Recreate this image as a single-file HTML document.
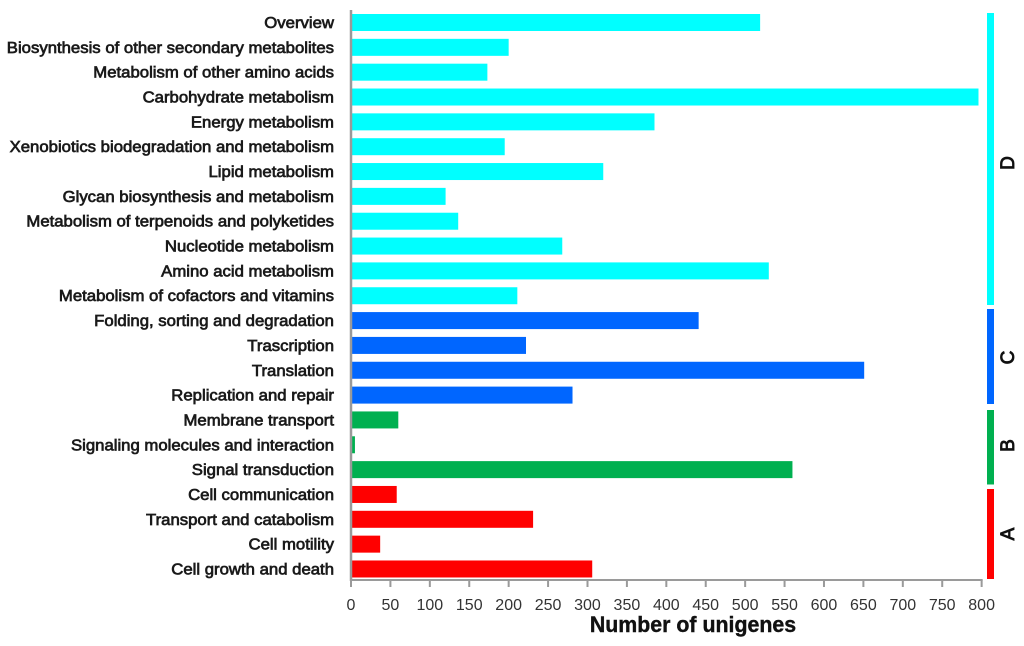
<!DOCTYPE html>
<html>
<head>
<meta charset="utf-8">
<style>
html,body{margin:0;padding:0;background:#fff;width:1024px;height:646px;overflow:hidden}
svg{display:block;filter:blur(0.35px)}
text{font-family:"Liberation Sans",sans-serif}
</style>
</head>
<body>
<svg id="chart" width="1024" height="646" viewBox="0 0 1024 646" xmlns="http://www.w3.org/2000/svg">
<text id="xtitle" x="693" y="632" text-anchor="middle" font-size="22" font-weight="bold" fill="#111" stroke="#111" stroke-width="0.4">Number of unigenes</text>
</svg>
<script>
const categories = ["Overview","Biosynthesis of other secondary metabolites","Metabolism of other amino acids","Carbohydrate metabolism","Energy metabolism","Xenobiotics biodegradation and metabolism","Lipid metabolism","Glycan biosynthesis and metabolism","Metabolism of terpenoids and polyketides","Nucleotide metabolism","Amino acid metabolism","Metabolism of cofactors and vitamins","Folding, sorting and degradation","Trascription","Translation","Replication and repair","Membrane transport","Signaling molecules and interaction","Signal transduction","Cell communication","Transport and catabolism","Cell motility","Cell growth and death"];
const values = [519,200,173,796,385,195,320,120,136,268,530,211,441,222,651,281,60,5,560,58,231,37,306];
const barGroups = ["D","D","D","D","D","D","D","D","D","D","D","D","C","C","C","C","B","B","B","A","A","A","A"];
const xTicks = [0,50,100,150,200,250,300,350,400,450,500,550,600,650,700,750,800];
const groupNames = ["D","C","B","A"];
const groupColors = {D:"#00ffff",C:"#0066ff",B:"#00b050",A:"#ff0000"};

const svg = document.getElementById('chart');
const NS = 'http://www.w3.org/2000/svg';
const xScale = v => 351 + v * 0.7883;
const yScale = i => 22.5 + i * 24.84;
const BAR_H = 17;

function make(tag, attrs, parent){
  const el = document.createElementNS(NS, tag);
  for (const k in attrs) el.setAttribute(k, attrs[k]);
  (parent || svg).appendChild(el);
  return el;
}
function slug(s){ return s.toLowerCase().replace(/[^a-z0-9]+/g,'-'); }
function fitWidth(t, k){
  const w = t.getComputedTextLength();
  t.setAttribute('textLength', (w * k).toFixed(1));
  t.setAttribute('lengthAdjust', 'spacingAndGlyphs');
}

/* bars and category labels */
categories.forEach((c, i) => {
  const y = yScale(i);
  const bar = make('rect', {x: xScale(0), y: y - BAR_H / 2, width: xScale(values[i]) - xScale(0), height: BAR_H, fill: groupColors[barGroups[i]]});
  
  
  const t = make('text', {x: 334, y: y + 5.5, 'text-anchor': 'end', 'font-size': 16, fill: '#1a1a1a', stroke: '#1a1a1a', 'stroke-width': 0.7});
  t.textContent = c;
  
  
  fitWidth(t, 1.045);
});

/* axes */
const yAxis = make('line', {x1: 351, y1: 10, x2: 351, y2: 581, stroke: '#9a9a9a', 'stroke-width': 2.5});


const xAxis = make('line', {x1: 350, y1: 580, x2: xScale(800) + 1, y2: 580, stroke: '#9a9a9a', 'stroke-width': 2});



xTicks.forEach(v => {
  const x = xScale(v);
  const tick = make('line', {x1: x, y1: 580, x2: x, y2: 587, stroke: '#9a9a9a', 'stroke-width': 2});
  
  
  const t = make('text', {x: x, y: 610, 'text-anchor': 'middle', 'font-size': 16, fill: '#333'});
  t.textContent = v;
  
  
});

/* group brackets: annotation strips beside the plot, not tied to bar positions */
function drawGroup(g, top, bottom, labelY){
  const strip = make('rect', {x: 987, y: top, width: 7, height: bottom - top, fill: groupColors[g]});
  
  
  const t = make('text', {x: 1014, y: labelY, 'text-anchor': 'middle', 'font-size': 19, fill: '#111', stroke: '#111', 'stroke-width': 0.9, transform: 'rotate(-90 1014 ' + labelY + ')'});
  t.textContent = g;
  
  
}
drawGroup(groupNames[0], 13, 305, 163);
drawGroup(groupNames[1], 309, 404, 357.5);
drawGroup(groupNames[2], 410, 484.5, 445.5);
drawGroup(groupNames[3], 489, 579, 534);

fitWidth(document.getElementById('xtitle'), 0.97);
</script>
</body>
</html>
